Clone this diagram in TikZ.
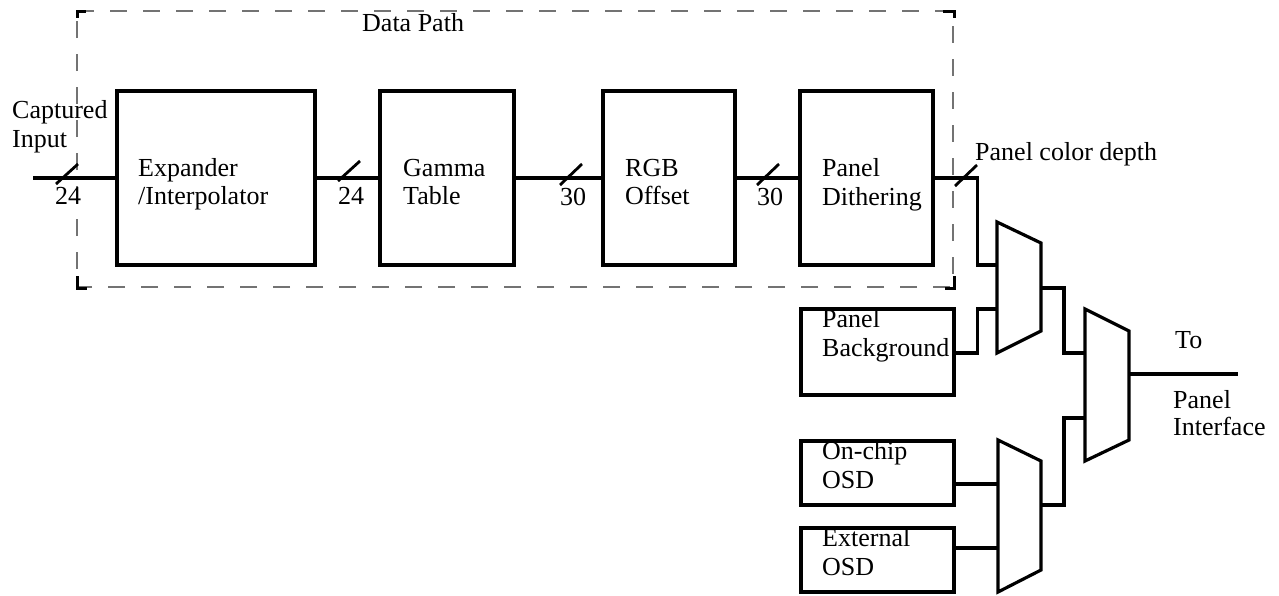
\documentclass[tikz,border=0pt]{standalone}
\usepackage{fontspec}
\setmainfont{Liberation Serif}
\begin{document}
\begin{tikzpicture}[x=1pt,y=-1pt,
  blk/.style={draw,line width=3.6pt,inner sep=0pt,minimum width=#1},
  wire/.style={line width=3.2pt},
  slashmark/.style={line width=2.8pt},
  muxs/.style={line width=3.2pt,line join=miter},
  txt/.style={anchor=base west,inner sep=0pt,font=\fontsize{26}{29}\selectfont},
  dbox/.style={draw={rgb,1:red,0.45;green,0.45;blue,0.45},line width=1.4pt,dash pattern=on 17pt off 16pt},
  cornermark/.style={line width=3.4pt,line cap=rect}]
\useasboundingbox (0,0) rectangle (1279,595);
% data path frame
\draw[dbox] (77,11) -- (953,11) -- (953,287) -- (77,287) -- cycle;
\draw[cornermark] (77.5,16.5) -- (77.5,11.5) -- (84,11.5);
\draw[cornermark] (945,11.5) -- (954.5,11.5) -- (954.5,16.5);
\draw[cornermark] (77.5,278) -- (77.5,288.5) -- (85,288.5);
\draw[cornermark] (947,288.5) -- (954.5,288.5) -- (954.5,278);
\node[txt] (dp) at (362,31) {Data Path};
% blocks
\node[blk=198pt,minimum height=174pt] (exp) at (216,178) {};
\node[blk=134pt,minimum height=174pt] (gam) at (447,178) {};
\node[blk=132pt,minimum height=174pt] (rgb) at (669,178) {};
\node[blk=133pt,minimum height=174pt] (dit) at (866.5,178) {};
\node[blk=153pt,minimum height=86pt] (bg) at (877.5,352) {};
\node[blk=153pt,minimum height=64pt] (osd1) at (877.5,473) {};
\node[blk=153pt,minimum height=64pt] (osd2) at (877.5,560) {};
% block texts
\node[txt] (t1a) at (138,176) {Expander};
\node[txt] (t1b) at (138,204) {/Interpolator};
\node[txt] (t2a) at (403,176) {Gamma};
\node[txt] (t2b) at (403,204) {Table};
\node[txt] (t3a) at (625,176) {RGB};
\node[txt] (t3b) at (625,204) {Offset};
\node[txt] (t4a) at (822,176) {Panel};
\node[txt] (t4b) at (822,205) {Dithering};
\node[txt] (t5a) at (822,327) {Panel};
\node[txt] (t5b) at (822,356) {Background};
\node[txt] (t6a) at (822,459) {On-chip};
\node[txt] (t6b) at (822,488) {OSD};
\node[txt] (t7a) at (822,546) {External};
\node[txt] (t7b) at (822,575) {OSD};
\node[txt] (cap1) at (12,118) {Captured};
\node[txt] (cap2) at (12,147) {Input};
\node[txt] (pcd) at (975,160) {Panel color depth};
\node[txt] (to) at (1175,348) {To};
\node[txt] (pi1) at (1173,408) {Panel};
\node[txt] (pi2) at (1173,435) {Interface};
\node[txt] (n1) at (55,204) {24};
\node[txt] (n2) at (338,204) {24};
\node[txt] (n3) at (560,205) {30};
\node[txt] (n4) at (757,205) {30};
% muxes
\coordinate (m1a) at (997,265); \coordinate (m1b) at (997,309); \coordinate (m1o) at (1041,288);
\coordinate (m2a) at (1085,353); \coordinate (m2b) at (1085,418); \coordinate (m2o) at (1129,374);
\coordinate (m3a) at (998,484); \coordinate (m3b) at (998,548); \coordinate (m3o) at (1041,505);
\coordinate (in) at (33,178); \coordinate (out) at (1238,374);
\draw[muxs] (997,222) -- (1041,243) -- (1041,331) -- (997,353) -- cycle;
\draw[muxs] (1085,309) -- (1129,331) -- (1129,440) -- (1085,461) -- cycle;
\draw[muxs] (998,440) -- (1041,461) -- (1041,570) -- (998,592) -- cycle;
% wires
\draw[wire] (in) -- (exp.west);
\draw[wire] (exp.east) -- (gam.west);
\draw[wire] (gam.east) -- (rgb.west);
\draw[wire] (rgb.east) -- (dit.west);
\draw[wire] (dit.east) -- ++(43,0) |- (m1a);
\draw[wire] (bg.east |- 0,353) -- ++(22,0) |- (m1b);
\draw[wire] (m1o) -- ++(23,0) |- (m2a);
\draw[wire] (m3o) -- ++(23,0) |- (m2b);
\draw[wire] (m2o) -- (out);
\draw[wire] (m3a -| osd1.east) -- (m3a);
\draw[wire] (m3b -| osd2.east) -- (m3b);
% bus width marks
\draw[slashmark] (56,184) -- (78,164);
\draw[slashmark] (338,181) -- (360,161);
\draw[slashmark] (560,185) -- (582,164);
\draw[slashmark] (757,185) -- (779,164);
\draw[slashmark] (955,186) -- (977,165);
\end{tikzpicture}
\end{document}
